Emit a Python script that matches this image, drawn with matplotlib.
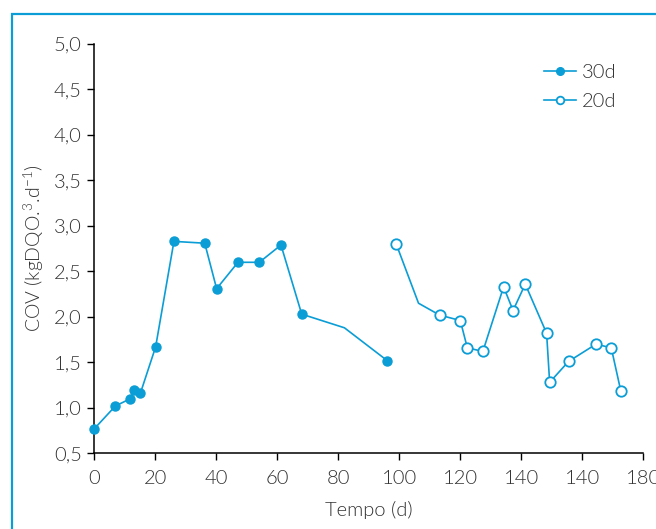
import matplotlib
matplotlib.use("Agg")
import matplotlib.pyplot as plt
from matplotlib.patches import Rectangle

plt.rcParams['font.family'] = ['Lato', 'DejaVu Sans']
plt.rcParams['font.weight'] = 300
plt.rcParams['axes.labelweight'] = 300
plt.rcParams['mathtext.default'] = 'regular'

# 30d series (one vertex without marker at t=82)
t30 = [0, 6.9, 11.8, 13.1, 15.1, 20.1, 26.1, 36.2, 40.1, 47.1, 54.1, 61.2, 68.0, 82.0, 96.0]
cov30 = [0.77, 1.02, 1.10, 1.20, 1.16, 1.67, 2.83, 2.81, 2.31, 2.60, 2.60, 2.79, 2.03, 1.88, 1.52]
mark30 = [0, 1, 2, 3, 4, 5, 6, 7, 8, 9, 10, 11, 12, 14]

# 20d series (one vertex without marker at t=106.3)
t20 = [99.0, 106.3, 113.2, 120.0, 122.3, 127.4, 134.2, 137.3, 141.3, 148.3, 149.3, 155.5, 164.5, 169.5, 172.6]
cov20 = [2.80, 2.15, 2.02, 1.96, 1.66, 1.62, 2.33, 2.07, 2.36, 1.82, 1.28, 1.51, 1.70, 1.66, 1.19]
mark20 = [0, 2, 3, 4, 5, 6, 7, 8, 9, 10, 11, 12, 13, 14]

xticks = [0, 20, 40, 60, 80, 100, 120, 140, 160, 180]
xlabels = ['0', '20', '40', '60', '80', '100', '120', '140', '140', '180']
yticks = [0.5, 1.0, 1.5, 2.0, 2.5, 3.0, 3.5, 4.0, 4.5, 5.0]
ylabels = ['0,5', '1,0', '1,5', '2,0', '2,5', '3,0', '3,5', '4,0', '4,5', '5,0']

blue = '#0a9dd6'
txt = '#333333'

fig = plt.figure(figsize=(6.56, 5.29), dpi=100)
ax = fig.add_axes([0.1438, 0.1431, 0.8368, 0.7737])

# outer frame (only top/left visible)
fig.patches.append(Rectangle((12 / 656, -0.1), 1.2, 1 - 13.5 / 529 + 0.1,
                             transform=fig.transFigure, fill=False,
                             edgecolor=blue, linewidth=1.6, clip_on=False))

ax.plot(t30, cov30, color=blue, lw=1.2, marker='o', ms=6.5,
        mfc=blue, mec=blue, markevery=mark30, label='30d', clip_on=False, zorder=3)
ax.plot(t20, cov20, color=blue, lw=1.2, marker='o', ms=7.5,
        mfc='white', mec=blue, mew=1.3, markevery=mark20, label='20d', clip_on=False, zorder=3)

ax.set_xlim(0, 180)
ax.set_ylim(0.5, 5.0)
ax.set_xticks(xticks)
ax.set_xticklabels(xlabels)
ax.set_yticks(yticks)
ax.set_yticklabels(ylabels)
ax.tick_params(direction='out', length=5, width=1, colors='black',
               labelcolor=txt, labelsize=14.5)
ax.tick_params(axis='x', pad=7)
ax.tick_params(axis='y', pad=4)
for s in ['top', 'right']:
    ax.spines[s].set_visible(False)
for s in ['left', 'bottom']:
    ax.spines[s].set_linewidth(1.1)

ax.set_xlabel('Tempo (d)', fontsize=14.5, color=txt, labelpad=10, fontweight=300)
ax.set_ylabel('COV (kgDQO.$^{3}$.d$^{-1}$)', fontsize=14, color=txt, labelpad=6, fontweight=300)

leg = ax.legend(loc='upper right', bbox_to_anchor=(0.985, 0.995), frameon=False,
                fontsize=14.5, handlelength=1.6, handletextpad=0.3, labelspacing=0.6,
                labelcolor=txt)
for h in leg.legend_handles:
    h.set_markersize(5.5)

fig.savefig('out.png', dpi=100)
